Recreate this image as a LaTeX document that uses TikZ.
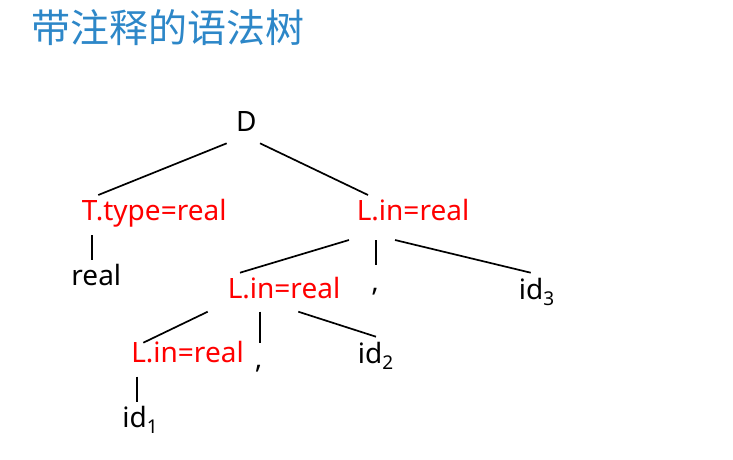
\documentclass[tikz,border=0pt]{standalone}
\usepackage{fontspec}
\setmainfont{Noto Sans}
\newfontfamily\cjk{Noto Sans CJK SC}
\usepackage{xcolor}
\usetikzlibrary{positioning}
\definecolor{titleblue}{RGB}{45,135,200}
\newcommand{\subidx}[1]{\raisebox{-6.5pt}{\fontsize{19}{19}\selectfont #1}}

\begin{document}
\begin{tikzpicture}[
    x=1pt, y=-1pt,
    word/.style={inner sep=0pt, anchor=base, font=\fontsize{28}{28}\selectfont},
    attr/.style={word, text=red},
    edge/.style={line width=1.7pt}
]
\useasboundingbox (0,0) rectangle (733,459);

\node[inner sep=0pt, anchor=west, text=titleblue, font=\cjk\fontsize{39}{39}\selectfont] (title) at (31,28) {带注释的语法树};

\node[word] (D) at (246.3,131.7) {D};
\node[attr] (T) at (154.2,220.7) {T.type=real};
\node[attr] (Ltop) at (413,220.7) {L.in=real};
\node[word] (real) at (96.3,285) {real};
\node[attr] (Lmid) at (284,298.3) {L.in=real};
\node[word] (comma1) at (375,291) {,};
\node[word] (id3) at (536.5,299.3) {id\subidx{3}};
\node[attr] (Llow) at (187.5,362.5) {L.in=real};
\node[word] (comma2) at (258.5,368) {,};
\node[word] (id2) at (375.5,363.3) {id\subidx{2}};
\node[word] (id1) at (140,427) {id\subidx{1}};

\draw[edge] ([shift={(-19.6,11.6)}]D.base) -- ([shift={(-55.9,-25.7)}]T.base);
\draw[edge] ([shift={(13.7,11.6)}]D.base) -- ([shift={(-45,-25.7)}]Ltop.base);
\draw[edge] ([shift={(-62.5,14.3)}]T.base) -- ([shift={(-4.6,-25)}]real.base);
\draw[edge] ([shift={(-64,19.3)}]Ltop.base) -- ([shift={(-44,-25.6)}]Lmid.base);
\draw[edge] ([shift={(-37.3,19.3)}]Ltop.base) -- ([shift={(0.7,-26)}]comma1.base);
\draw[edge] ([shift={(-18,19.3)}]Ltop.base) -- ([shift={(-5.8,-26.6)}]id3.base);
\draw[edge] ([shift={(-76.3,13.4)}]Lmid.base) -- ([shift={(-44.2,-19.8)}]Llow.base);
\draw[edge] ([shift={(-24,13.4)}]Lmid.base) -- ([shift={(1.5,-24.7)}]comma2.base);
\draw[edge] ([shift={(14.3,13.4)}]Lmid.base) -- ([shift={(0.5,-26.6)}]id2.base);
\draw[edge] ([shift={(-50.8,14.2)}]Llow.base) -- ([shift={(-3.3,-25.3)}]id1.base);

\end{tikzpicture}
\end{document}
